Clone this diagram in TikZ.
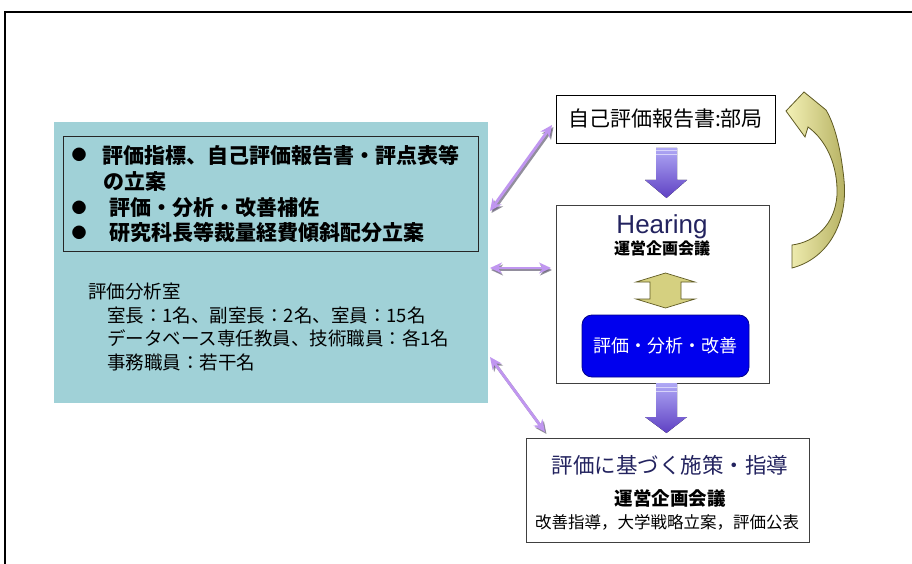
\documentclass[tikz,border=0pt]{standalone}
\usepackage{fontspec}
\setmainfont{Noto Sans CJK JP}
\newfontfamily\hfont{Liberation Sans}
\usetikzlibrary{arrows.meta}
\definecolor{tealbg}{RGB}{160,209,215}
\definecolor{navy}{RGB}{35,35,95}
\definecolor{lilac}{RGB}{192,150,240}
\definecolor{lilacshadow}{RGB}{110,105,125}
\definecolor{olivedark}{RGB}{95,90,35}
\definecolor{olivemid}{RGB}{200,194,105}
\definecolor{paleyellow}{RGB}{243,241,182}
\definecolor{purplelight}{RGB}{175,168,245}
\definecolor{purpledark}{RGB}{95,65,195}
\definecolor{bluebox}{RGB}{0,0,238}
\definecolor{bluedark}{RGB}{0,0,140}
\tikzset{
  txt/.style={inner sep=0pt, outer sep=0pt},
  whitebox/.style={draw=black!80, line width=0.9pt, fill=white, inner sep=0pt},
  duo/.style={draw=lilac, line width=2.8pt, {Stealth[length=12pt,width=11pt]}-{Stealth[length=12pt,width=11pt]}},
  duoshadow/.style={draw=lilacshadow, line width=2.8pt, {Stealth[length=12pt,width=11pt]}-{Stealth[length=12pt,width=11pt]}},
  downarrow/.style={top color=purplelight, bottom color=purpledark},
  yarrow/.style={left color=olivemid!70!paleyellow, middle color=paleyellow, right color=olivemid!70!paleyellow, draw=olivedark, line width=0.7pt},
}
\begin{document}
\begin{tikzpicture}[x=1pt,y=-1pt]
\useasboundingbox (0,0) rectangle (912,564);
\fill[white] (0,0) rectangle (912,564);
\draw[line width=1.2pt] (5,564) -- (5,12) -- (912,12);

% left teal panel
\node[fill=tealbg, inner sep=0pt, minimum width=434, minimum height=281, anchor=north west] (panel) at (54,122) {};
\node[draw=black!85, line width=0.8pt, inner sep=0pt, minimum width=415, minimum height=115, anchor=north west] (tasks) at (63,136) {};

\node[txt] (bu1) at (79,155) {\fontsize{15}{18}\selectfont ●};
\node[txt] (bu2) at (79,208) {\fontsize{15}{18}\selectfont ●};
\node[txt] (bu3) at (79,233) {\fontsize{15}{18}\selectfont ●};
\node[txt, anchor=west] (t1) at (102,155) {\fontsize{21}{25}\selectfont\bfseries 評価指標、自己評価報告書・評点表等};
\node[txt, anchor=west] (t1b) at (103,182) {\fontsize{21}{25}\selectfont\bfseries の立案};
\node[txt, anchor=west] (t2) at (109,208) {\fontsize{21}{25}\selectfont\bfseries 評価・分析・改善補佐};
\node[txt, anchor=west] (t3) at (109,233) {\fontsize{21}{25}\selectfont\bfseries 研究科長等裁量経費傾斜配分立案};

\node[txt, anchor=west] (s0) at (88,292) {\fontsize{18.5}{22}\selectfont 評価分析室};
\node[txt, anchor=west] (s1) at (107,315) {\fontsize{18.5}{22}\selectfont 室長：1名、副室長：2名、室員：15名};
\node[txt, anchor=west] (s2) at (107,338) {\fontsize{18.5}{22}\selectfont データベース専任教員、技術職員：各1名};
\node[txt, anchor=west] (s3) at (107,362) {\fontsize{18.5}{22}\selectfont 事務職員：若干名};

% right column
\node[whitebox, draw=black, minimum width=219, minimum height=48] (b1) at (665.5,119) {\fontsize{21}{25}\selectfont 自己評価報告書:部局};
\node[whitebox, draw=black!75, minimum width=213, minimum height=178, anchor=north west] (b2) at (556,205) {};
\node[txt, anchor=base, text=navy] (hear) at (662,233) {\hfont\fontsize{26}{30}\selectfont Hearing};
\node[txt, text=black] (unei1) at (662,248) {\fontsize{16}{19}\selectfont\bfseries 運営企画会議};
\node[fill=bluebox, draw=bluedark, line width=0.8pt, rounded corners=10pt, minimum width=167, minimum height=62, inner sep=0pt, text=white] (blue) at (665.5,346) {\fontsize{18}{22}\selectfont 評価・分析・改善};

\node[whitebox, draw=black!75, minimum width=283, minimum height=104, anchor=north west] (b3) at (526,438) {};
\node[txt, text=navy] (b3a) at (670,465) {\fontsize{21.5}{25}\selectfont 評価に基づく施策・指導};
\node[txt] (b3b) at (670,498) {\fontsize{18.5}{22}\selectfont\bfseries 運営企画会議};
\node[txt] (b3c) at (667,522) {\fontsize{16.5}{20}\selectfont 改善指導，大学戦略立案，評価公表};

% purple block arrows
\fill[downarrow] (656,148) -- (677,148) -- (677,180) -- (687,180) -- (666.5,198) -- (645,180) -- (656,180) -- cycle;
\draw[purplelight!50!white, line width=1pt] (656,151) -- (677,151) (656,155) -- (677,155);
\fill[downarrow] (656,383) -- (677,383) -- (677,417) -- (687,417) -- (666.5,433) -- (645,417) -- (656,417) -- cycle;
\draw[purplelight!50!white, line width=1pt] (656,387) -- (677,387) (656,391) -- (677,391);

% yellow double arrow
\path[yarrow] (636,282) -- (665.5,273) -- (695,282) -- (681,282) -- (681,299) -- (695,299) -- (665.5,308) -- (636,299) -- (650,299) -- (650,282) -- cycle;

% curved yellow arrow
\path[left color=paleyellow, right color=olivemid!90!black, draw=olivedark, line width=0.8pt]
  (792,245) -- (792,268)
  .. controls (830,258) and (848,220) .. (844,180)
  .. controls (841,150) and (835,125) .. (826,110)
  -- (804,92) -- (786,111) -- (805,137) -- (808,127)
  .. controls (826,140) and (838,165) .. (837,195)
  .. controls (835,225) and (815,242) .. (792,245) -- cycle;

% lilac double arrows
\coordinate (p1a) at (490,211);
\coordinate (p1b) at (552,125);
\coordinate (p2a) at (490,268);
\coordinate (p2b) at (551,268);
\coordinate (p3a) at (490,357);
\coordinate (p3b) at (545,432);
\coordinate (p1as) at (491.5,213);
\coordinate (p1bs) at (553.5,127);
\coordinate (p2as) at (491,270);
\coordinate (p2bs) at (552,270);
\coordinate (p3as) at (491.5,359);
\coordinate (p3bs) at (546.5,434);
\draw[duoshadow, opacity=0.75] (p1as) -- (p1bs);
\draw[duoshadow, opacity=0.75] (p2as) -- (p2bs);
\draw[duoshadow, opacity=0.75] (p3as) -- (p3bs);
\draw[duo] (p1a) -- (p1b);
\draw[duo] (p2a) -- (p2b);
\draw[duo] (p3a) -- (p3b);
\end{tikzpicture}
\end{document}
